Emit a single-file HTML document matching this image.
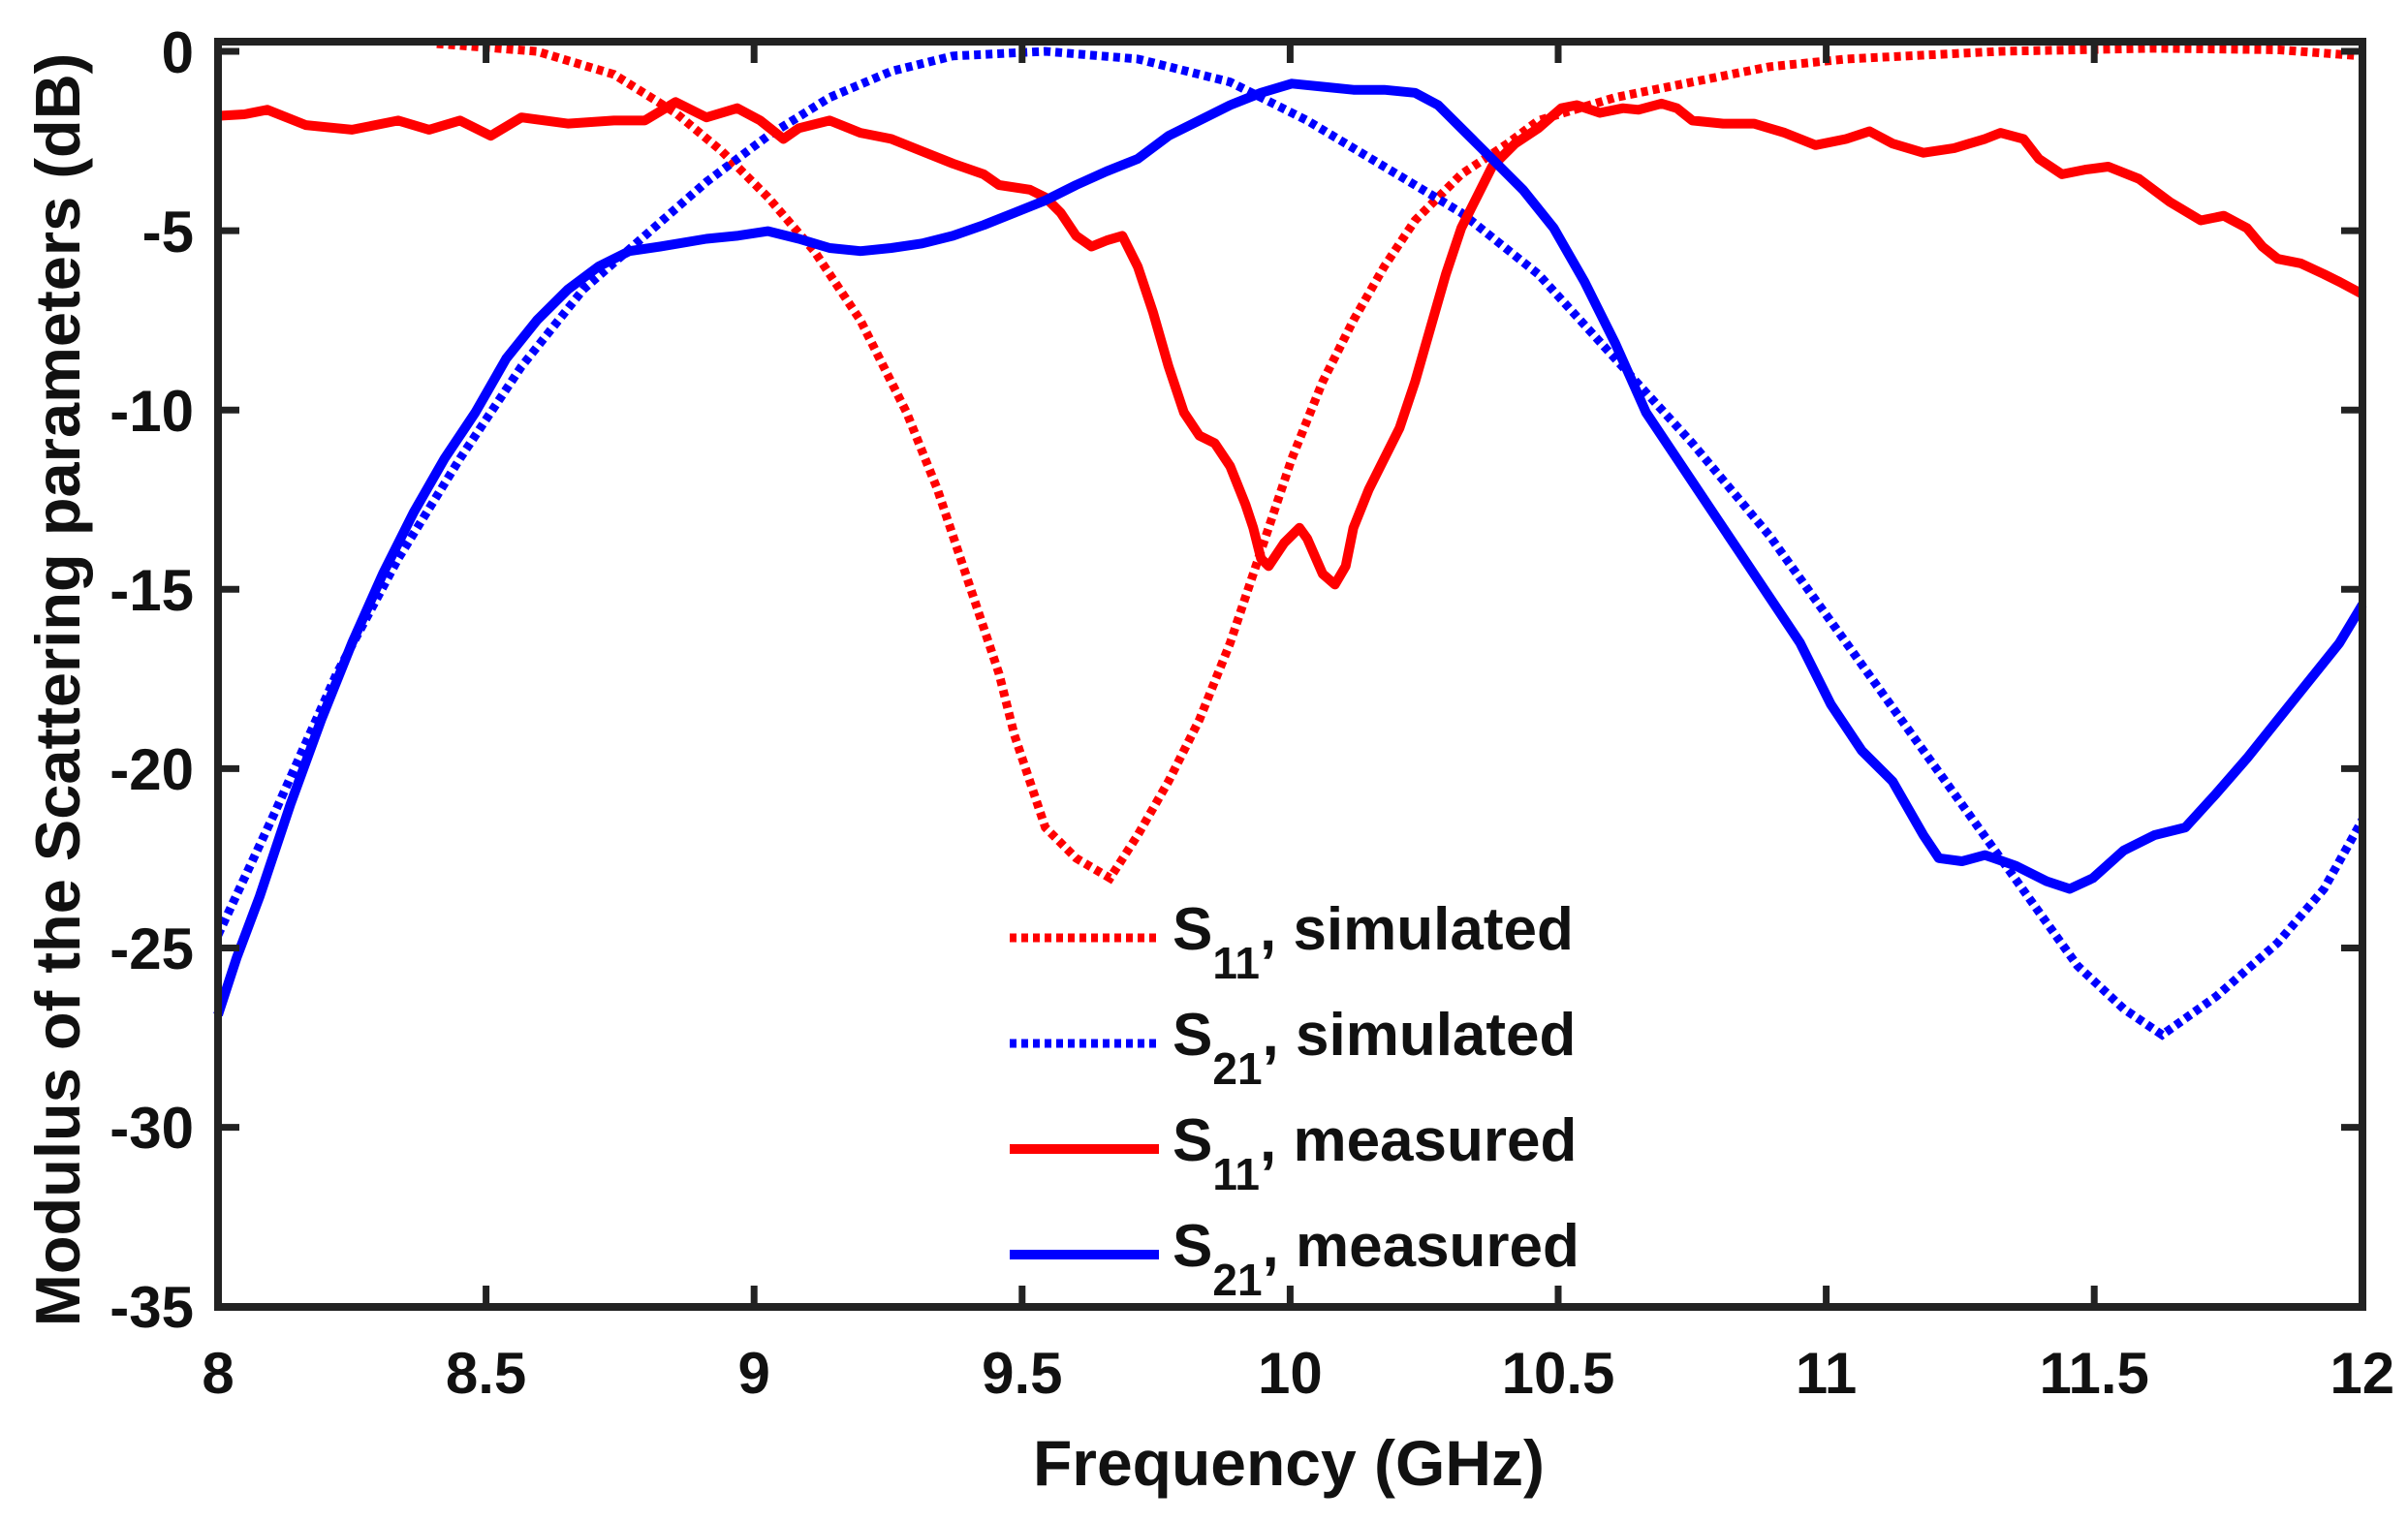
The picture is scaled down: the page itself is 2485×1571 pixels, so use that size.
<!DOCTYPE html>
<html><head><meta charset="utf-8"><style>
html,body{margin:0;padding:0;background:#fff;}
svg{display:block;}
text{font-family:"Liberation Sans",Arial,sans-serif;font-weight:bold;fill:#111;}
</style></head><body>
<svg id="s" width="2485" height="1571" viewBox="0 0 2485 1571" xmlns="http://www.w3.org/2000/svg">
<g id="curves"></g>
<g stroke="#222" stroke-width="8" fill="none">
<rect x="225" y="43" width="2213" height="1306"/>
</g>
<g id="ticks" stroke="#222" stroke-width="7"></g>
<g font-size="60" text-anchor="end">
<text x="200" y="75">0</text>
<text x="200" y="260">-5</text>
<text x="200" y="445">-10</text>
<text x="200" y="630">-15</text>
<text x="200" y="815">-20</text>
<text x="200" y="1000">-25</text>
<text x="200" y="1185">-30</text>
<text x="200" y="1370">-35</text>
</g>
<g font-size="60" text-anchor="middle" id="xl"></g>
<text x="1330" y="1533" font-size="66" text-anchor="middle">Frequency (GHz)</text>
<text transform="translate(82,712) rotate(-90)" font-size="65" text-anchor="middle">Modulus of the Scattering parameters (dB)</text>
<g>
<line x1="1042" y1="968" x2="1196" y2="968" stroke="#f00" stroke-width="9" stroke-dasharray="7,5"/>
<line x1="1042" y1="1077" x2="1196" y2="1077" stroke="#00f" stroke-width="9" stroke-dasharray="7,5"/>
<line x1="1042" y1="1186" x2="1196" y2="1186" stroke="#f00" stroke-width="10"/>
<line x1="1042" y1="1295" x2="1196" y2="1295" stroke="#00f" stroke-width="10"/>
<text x="1210" y="980" font-size="62">S<tspan font-size="46" dy="30">11</tspan><tspan dy="-30">, simulated</tspan></text>
<text x="1210" y="1089" font-size="62">S<tspan font-size="46" dy="30">21</tspan><tspan dy="-30">, simulated</tspan></text>
<text x="1210" y="1198" font-size="62">S<tspan font-size="46" dy="30">11</tspan><tspan dy="-30">, measured</tspan></text>
<text x="1210" y="1307" font-size="62">S<tspan font-size="46" dy="30">21</tspan><tspan dy="-30">, measured</tspan></text>
</g>
</svg>
<script>
var ns="http://www.w3.org/2000/svg";
function X(x){return 225+(x-143)*1.5898;}
function Y(y){return 53+(y-35)*1.5863;}
function add(par,tag,attrs){var e=document.createElementNS(ns,tag);for(var k in attrs)e.setAttribute(k,attrs[k]);par.appendChild(e);return e;}
var t=document.getElementById('ticks');
for(var i=1;i<8;i++){var x=225+i*276.6;add(t,'line',{x1:x,y1:1349,x2:x,y2:1327});add(t,'line',{x1:x,y1:43,x2:x,y2:65});}
for(var j=0;j<8;j++){var y=53+j*185.1;add(t,'line',{x1:225,y1:y,x2:247,y2:y});add(t,'line',{x1:2438,y1:y,x2:2416,y2:y});}
var xl=document.getElementById('xl');var labs=['8','8.5','9','9.5','10','10.5','11','11.5','12'];
for(var i=0;i<9;i++){var e=add(xl,'text',{x:225+i*276.6,y:1438});e.textContent=labs[i];}
function pts(a){var s=[];for(var i=0;i<a.length;i+=2)s.push(X(a[i]).toFixed(1)+','+Y(a[i+1]).toFixed(1));return s.join(' ');}
var c=document.getElementById('curves');
var s11s=[285,30,350,35,400,50,440,75,470,100,500,130,530,165,560,210,590,270,610,320,630,380,650,440,660,480,670,510,680,540,700,560,722,573,740,545,760,510,780,470,800,420,820,360,840,300,860,250,880,210,900,175,920,145,950,115,980,95,1000,80,1050,65,1100,55,1150,45,1200,40,1300,35,1400,33,1480,34,1535,38];
var s21s=[143,610,180,530,220,440,260,365,300,300,340,240,380,190,420,155,460,120,500,90,540,65,580,48,620,38,680,35,740,40,800,55,850,80,900,110,950,140,1000,180,1050,235,1100,290,1150,350,1200,420,1250,490,1300,560,1350,630,1380,658,1405,675,1440,650,1480,615,1510,580,1535,535];
var s11m=[143,77,160,76,175,73,200,83,230,86,260,80,280,86,300,80,320,90,340,78,370,82,400,80,420,80,440,68,460,78,480,72,495,80,510,92,520,85,540,80,560,88,580,92,600,100,620,108,640,115,650,122,670,125,680,130,690,140,700,155,710,162,720,158,730,155,740,175,750,205,760,240,770,270,780,285,790,290,800,305,810,330,815,345,820,365,825,370,835,355,845,345,850,352,860,375,868,382,875,370,880,345,890,320,900,300,910,280,920,250,930,215,940,180,950,150,960,130,970,110,985,95,1000,85,1015,72,1025,70,1040,75,1055,72,1065,73,1080,69,1090,72,1100,80,1120,82,1140,82,1160,88,1180,96,1200,92,1215,87,1230,95,1250,101,1270,98,1290,92,1300,88,1315,92,1325,105,1340,115,1355,112,1370,110,1390,118,1410,133,1430,145,1445,142,1460,150,1470,162,1480,170,1495,173,1510,180,1520,185,1535,193];
var s21m=[143,662,155,625,170,585,190,525,210,470,230,420,250,375,270,335,290,300,310,270,330,235,350,210,370,190,390,175,410,165,430,162,460,157,480,155,500,152,520,157,540,163,560,165,580,163,600,160,620,155,640,148,660,140,680,132,700,122,720,113,740,105,760,90,780,80,800,70,820,62,840,56,860,58,880,60,900,60,920,62,935,70,950,85,970,105,990,125,1010,150,1030,185,1050,225,1070,270,1090,300,1110,330,1130,360,1150,390,1170,420,1190,460,1210,490,1230,510,1250,545,1260,560,1275,562,1290,558,1310,565,1330,575,1345,580,1360,573,1380,555,1400,545,1420,540,1440,518,1460,495,1480,470,1500,445,1520,420,1535,395];
add(c,'polyline',{points:pts(s11s),fill:'none',stroke:'#f00','stroke-width':9,'stroke-dasharray':'7,5'});
add(c,'polyline',{points:pts(s21s),fill:'none',stroke:'#00f','stroke-width':9,'stroke-dasharray':'7,5'});
add(c,'polyline',{points:pts(s11m),fill:'none',stroke:'#f00','stroke-width':10,'stroke-linejoin':'round'});
add(c,'polyline',{points:pts(s21m),fill:'none',stroke:'#00f','stroke-width':10,'stroke-linejoin':'round'});
</script>
</body></html>
